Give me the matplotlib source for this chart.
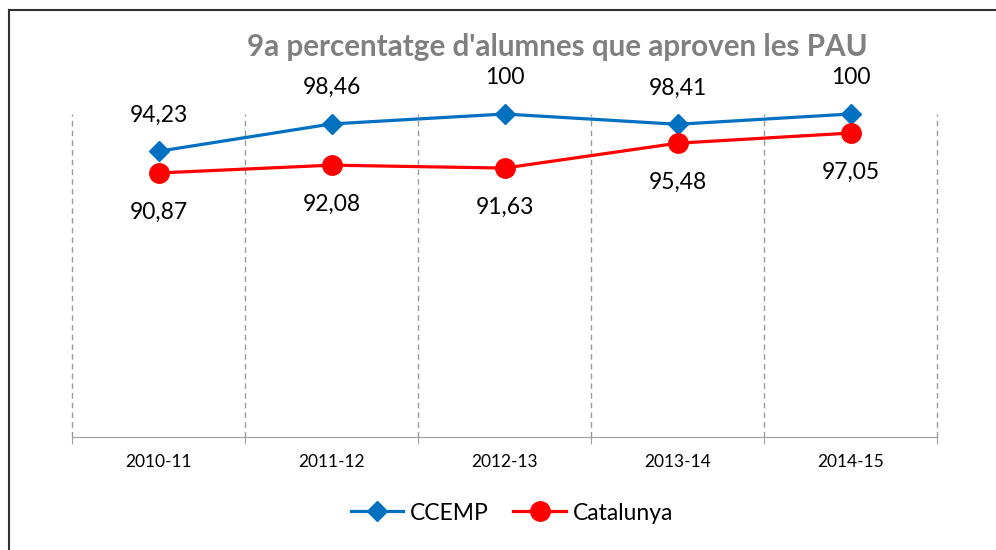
import matplotlib
matplotlib.use("Agg")
import matplotlib.pyplot as plt
from matplotlib.lines import Line2D

plt.rcParams['font.family'] = ['Lato', 'DejaVu Sans']

cursos = ['2010-11', '2011-12', '2012-13', '2013-14', '2014-15']
ccemp = [94.23, 98.46, 100, 98.41, 100]
catalunya = [90.87, 92.08, 91.63, 95.48, 97.05]
titol = "9a percentatge d'alumnes que aproven les PAU"

blau = '#0070C0'
vermell = '#FF0000'

fig = plt.figure(figsize=(9.96, 5.5), dpi=100)
ax = fig.add_axes([72/996, 1-437/550, (937-72)/996, (437-114)/550])

x = list(range(len(cursos)))
ax.plot(x, ccemp, color=blau, lw=2.3, marker='D', ms=10, label='CCEMP', clip_on=False, zorder=3)
ax.plot(x, catalunya, color=vermell, lw=2.3, marker='o', ms=14, label='Catalunya', clip_on=False, zorder=3)

def fmt(v):
    if v == int(v):
        return str(int(v))
    return ('%.2f' % v).replace('.', ',')

for i, v in enumerate(ccemp):
    ax.annotate(fmt(v), (i, v), xytext=(0, 26), textcoords='offset points',
                ha='center', va='center', fontsize=16.5, annotation_clip=False)
for i, v in enumerate(catalunya):
    ax.annotate(fmt(v), (i, v), xytext=(0, -28), textcoords='offset points',
                ha='center', va='center', fontsize=16.5, annotation_clip=False)

ax.set_xlim(-0.5, len(cursos) - 0.5)
ax.set_ylim(50, 100)
for b in [i - 0.5 for i in range(len(cursos) + 1)]:
    ax.axvline(b, color='#9a9a9a', lw=1, ls=(0, (4, 3)), zorder=1, clip_on=False)

for s in ['top', 'right', 'left']:
    ax.spines[s].set_visible(False)
ax.spines['bottom'].set_color('#a0a0a0')
ax.set_yticks([])
ax.set_xticks([i - 0.5 for i in range(len(cursos) + 1)], minor=False)
ax.set_xticklabels([])
ax.tick_params(axis='x', which='major', length=5, color='#a0a0a0')
ax.set_xticks(x, minor=True)
ax.set_xticklabels(cursos, minor=True, fontsize=12.5)
ax.tick_params(axis='x', which='minor', length=0, pad=12)

fig.text(557/996, 1-47/550, titol, ha='center', va='center', fontsize=21.3,
         fontweight='bold', color='#808080')

fig.legend(loc='center', bbox_to_anchor=(512/996, 1-513/550), ncol=2, frameon=False,
           fontsize=16.5, handlelength=2.3, columnspacing=1.05, handletextpad=0.3)

fig.add_artist(Line2D([8.5/996, 8.5/996], [0, 1-9.5/550], color='#303030', lw=1.5))
fig.add_artist(Line2D([8.5/996, 1], [1-9.5/550, 1-9.5/550], color='#303030', lw=1.5))

fig.savefig('out.png', dpi=100)
